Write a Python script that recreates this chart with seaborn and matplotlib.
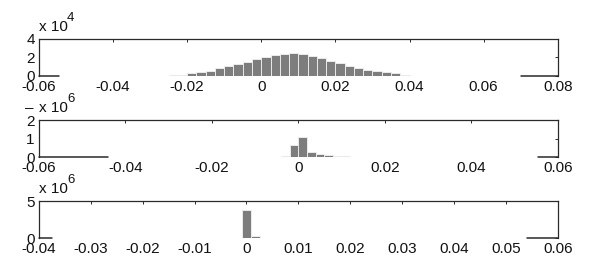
import numpy as np
import pandas as pd
import matplotlib
matplotlib.use("Agg")
import matplotlib.pyplot as plt
import seaborn as sns

# ---- data (bar heights in units of the axis multiplier) ----
p1_start, p1_width = -0.025, 0.0025
p1_values = [0.05, 0.10, 0.30, 0.43, 0.58, 0.83, 1.05, 1.30, 1.55, 1.84,
             2.02, 2.23, 2.41, 2.45, 2.34, 2.20, 1.90, 1.62, 1.37, 1.05,
             0.90, 0.65, 0.50, 0.40, 0.29, 0.14]          # x 10^4
p2_start, p2_width = -0.004, 0.002
p2_values = [0.06, 0.68, 1.09, 0.25, 0.17, 0.11, 0.06, 0.05]  # x 10^6
p3_start, p3_width = -0.002625, 0.00175
p3_values = [0.04, 3.85, 0.22, 0.05, 0.03]                  # x 10^6

p1_xticks = [-0.06, -0.04, -0.02, 0, 0.02, 0.04, 0.06, 0.08]
p1_xlabels = ["-0.06", "-0.04", "-0.02", "0", "0.02", "0.04", "0.06", "0.08"]
p2_xticks = [-0.06, -0.04, -0.02, 0, 0.02, 0.04, 0.06]
p2_xlabels = ["-0.06", "-0.04", "-0.02", "0", "0.02", "0.04", "0.06"]
p3_xticks = [-0.04, -0.03, -0.02, -0.01, 0, 0.01, 0.02, 0.03, 0.04, 0.05, 0.06]
p3_xlabels = ["-0.04", "-0.03", "-0.02", "-0.01", "0", "0.01", "0.02",
              "0.03", "0.04", "0.05", "0.06"]
p1_yticks, p2_yticks, p3_yticks = [0, 2, 4], [0, 1, 2], [0, 5]
exponents = ["4", "6", "6"]

sns.set_style("white")
plt.rcParams["font.family"] = ["Liberation Sans", "DejaVu Sans"]
plt.rcParams["font.size"] = 11

fig = plt.figure(figsize=(5.89, 2.80), dpi=100)
boxes = [[0.066, 0.729, 0.881, 0.132],
         [0.066, 0.439, 0.881, 0.132],
         [0.066, 0.150, 0.881, 0.132]]

panels = [
    (p1_start, p1_width, p1_values, (-0.06, 0.08), (0, 4), p1_xticks, p1_xlabels, p1_yticks,
     [(0.0, 0.038), (0.929, 1.0)]),
    (p2_start, p2_width, p2_values, (-0.06, 0.06), (0, 2), p2_xticks, p2_xlabels, p2_yticks,
     [(0.0, 0.133), (0.961, 1.0)]),
    (p3_start, p3_width, p3_values, (-0.04, 0.06), (0, 5), p3_xticks, p3_xlabels, p3_yticks,
     [(0.0, 0.025), (0.94, 1.0)]),
]

spine_col = "#2a2a2a"
for i, (start, width, vals, xl, yl, xt, xlab, yt, segs) in enumerate(panels):
    ax = fig.add_axes(boxes[i])
    n = len(vals)
    centers = start + width * (np.arange(n) + 0.5)
    df = pd.DataFrame({"x": centers, "w": np.asarray(vals, dtype=float)})
    sns.histplot(data=df, x="x", weights="w", binwidth=width,
                 binrange=(start, start + n * width), ax=ax,
                 color="#7d7d7d", alpha=1.0, edgecolor="#f2f2f2", linewidth=0.6)
    ax.set_xlim(*xl)
    ax.set_ylim(*yl)
    ax.set_xticks(xt)
    ax.set_xticklabels(xlab)
    ax.set_yticks(yt)
    ax.set_yticklabels([str(v) for v in yt])
    ax.set_xlabel("")
    ax.set_ylabel("")
    ax.tick_params(direction="in", top=True, right=True, length=2.5, width=0.7,
                   colors=spine_col, labelcolor="#111111", labelsize=11)
    ax.tick_params(axis="x", pad=3)
    ax.tick_params(axis="y", pad=3)
    for s in ["top", "left", "right"]:
        ax.spines[s].set_visible(True)
        ax.spines[s].set_color(spine_col)
        ax.spines[s].set_linewidth(0.9)
    ax.spines["bottom"].set_visible(False)
    for a, b in segs:
        ax.axhline(yl[0], xmin=a, xmax=b, color=spine_col, lw=1.1, clip_on=False)
    ax.text(0.0, 1.22, "x 10", transform=ax.transAxes, ha="left", va="baseline",
            fontsize=11, color="#111111")
    ax.text(0.054, 1.48, exponents[i], transform=ax.transAxes, ha="left", va="baseline",
            fontsize=9.5, color="#111111")
    if i == 1:
        ax.text(-0.027, 1.32, "\u2013", transform=ax.transAxes, ha="left", va="center",
                fontsize=11, color="#111111")

fig.savefig("out.png", dpi=100)
